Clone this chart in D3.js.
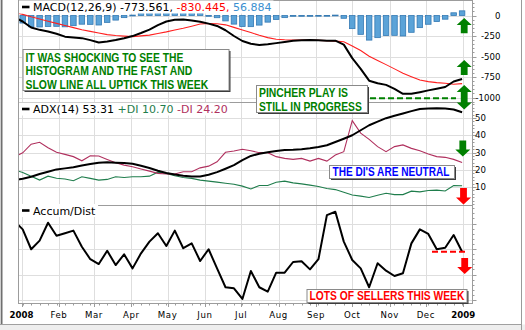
<!DOCTYPE html>
<html>
<head>
<meta charset="utf-8">
<script src="https://cdn.jsdelivr.net/npm/d3@7/dist/d3.min.js"></script>
<style>
  html, body { margin: 0; padding: 0; background: #ffffff; }
  svg { display: block; }
</style>
</head>
<body>
<svg id="chart" width="525" height="330"></svg>
<script>
// ---------------- data ----------------
// Weekly bars; the first one (late Dec 2007) sits just left of the plot and is clipped.
const weeks = d3.timeWednesday.range(new Date(2007, 11, 25), new Date(2009, 0, 1));

const macdLine = [-20, -73, -146, -175, -195, -223, -258, -268, -276, -300, -330, -316, -299, -277, -251, -213,
  -172, -117, -73, -52, -48, -61, -77, -99, -127, -180, -250, -311, -344, -359, -351, -337, -322, -307, -303,
  -299, -303, -307, -307, -355, -520, -650, -795, -826, -846, -895, -955, -955, -935, -913, -893, -872, -805, -773.561];

const signalLine = [38, 14, -16, -43, -70, -96, -122, -148, -174, -194, -214, -233, -244, -252, -258, -249,
  -239, -219, -200, -177, -155, -130, -104, -98, -100, -114, -145, -177, -208, -242, -270, -289, -296, -299,
  -299, -299, -303, -307, -312, -321, -372, -428, -497, -548, -599, -651, -703, -746, -787, -806, -819, -827, -838, -830.445];

const macdHist = [-58, -92, -138, -140, -133, -132, -138, -124, -106, -108, -116, -84, -56, -26, 5, 36, 67,
  102, 127, 125, 107, 69, 27, -1, -27, -66, -105, -134, -136, -117, -81, -48, -26, -8, -4, 0, 1, 1, 5, -34,
  -160, -230, -300, -270, -245, -242, -250, -205, -148, -107, -74, -45, 33, 56.884];

const adxLine = [14.0, 14.8, 15.9, 17.5, 18.8, 20.2, 20.8, 21.5, 22.5, 23.3, 24.1, 24.3, 24.1, 23.9, 23.5,
  22.3, 21.0, 19.4, 18.1, 17.3, 16.5, 16.1, 16.1, 17.1, 18.6, 20.6, 22.7, 25.6, 28.0, 29.3, 30.1, 30.9, 31.5,
  31.6, 31.9, 32.4, 33.2, 34.2, 36.1, 38.0, 40.0, 42.9, 45.8, 47.9, 49.9, 51.3, 52.6, 54.0, 55.2, 55.5, 55.7,
  55.5, 54.9, 53.31];

const plusDI = [20.0, 18.4, 16.3, 14.0, 16.3, 15.1, 14.6, 13.6, 15.9, 15.0, 14.0, 14.4, 15.9, 15.5, 15.9,
  15.9, 16.3, 18.6, 17.9, 16.5, 15.5, 15.0, 14.0, 13.4, 12.8, 12.2, 11.6, 10.5, 8.9, 10.9, 10.9, 12.8, 13.4,
  12.4, 11.8, 11.1, 10.3, 9.1, 8.5, 7.0, 5.4, 4.7, 3.9, 5.2, 6.4, 5.6, 5.6, 7.6, 7.2, 8.0, 8.2, 7.7, 10.9, 10.70];

const minusDI = [27.5, 29.8, 34.8, 35.9, 32.8, 30.1, 28.9, 27.6, 25.2, 28.1, 28.0, 26.0, 24.1, 22.7, 21.7,
  20.4, 19.2, 17.9, 17.5, 17.5, 18.8, 18.8, 21.1, 22.1, 24.6, 30.1, 30.9, 31.9, 31.0, 29.9, 29.9, 27.6, 26.6,
  26.0, 26.6, 25.0, 26.6, 25.0, 28.5, 30.5, 48.5, 41.2, 37.6, 33.4, 30.5, 33.4, 34.4, 32.4, 31.0, 29.1, 27.6,
  27.2, 26.0, 24.20];

const accumDist = [31.0, 27.7, 19.9, 23.3, 30.3, 25.2, 26.2, 27.2, 20.9, 16.0, 14.1, 19.3, 13.7, 17.9, 12.4,
  18.3, 22.9, 26.2, 21.2, 27.2, 20.3, 22.2, 15.3, 19.9, 12.4, 5.0, 4.6, 0.4, 11.4, 5.0, 3.3, 10.7, 10.7, 14.9,
  15.2, 12.0, 16.0, 33.3, 34.6, 22.9, 15.7, 12.4, 5.0, 14.4, 11.5, 9.4, 10.5, 22.2, 27.7, 25.9, 19.9, 20.5,
  25.5, 18.9];

const macdTicks = [0, -250, -500, -750, -1000];
const adxTicks = [10, 20, 30, 40, 50];
const adGridTicks = [0, 10, 20, 30];

// ---------------- layout ----------------
const plotL = 18.5, plotR = 472.5;
const panels = {
  macd: { top: 0.5, bottom: 102.5 },
  adx:  { top: 102.5, bottom: 205.5 },
  ad:   { top: 205.5, bottom: 303.5 }
};
const GRID = "#dedede", BORDER = "#9c9c9c";
const GREEN = "#008000", RED = "#ff0000";

const x = d3.scaleTime().domain([new Date(2008, 0, 1), new Date(2009, 0, 1)]).range([21.5, 463.3]);
const yMacd = d3.scaleLinear().domain([-1000, 0]).range([97.5, 15.5]);
const yAdx = d3.scaleLinear().domain([10, 50]).range([187, 118]);
const yAd = d3.scaleLinear().domain([0, 30]).range([300, 223.5]);

const months = d3.timeMonth.range(new Date(2008, 0, 1), new Date(2009, 0, 2));

const svg = d3.select("#chart");
svg.append("rect").attr("width", 525).attr("height", 330).attr("fill", "#ffffff");
const defs = svg.append("defs");

Object.entries(panels).forEach(([key, p]) => {
  defs.append("clipPath").attr("id", "clip-" + key)
    .append("rect").attr("x", plotL).attr("y", p.top)
    .attr("width", plotR - plotL).attr("height", p.bottom - p.top);
});

// ---------------- grids ----------------
function drawGrid(p, yScale, ticks) {
  const g = svg.append("g");
  g.selectAll("line.v").data(months).join("line")
    .attr("x1", d => Math.round(x(d)) + 0.5).attr("x2", d => Math.round(x(d)) + 0.5)
    .attr("y1", p.top).attr("y2", p.bottom)
    .attr("stroke", GRID).attr("stroke-width", 1);
  g.selectAll("line.h").data(ticks).join("line")
    .attr("x1", plotL).attr("x2", plotR)
    .attr("y1", d => Math.round(yScale(d)) + 0.5).attr("y2", d => Math.round(yScale(d)) + 0.5)
    .attr("stroke", GRID).attr("stroke-width", 1);
}
drawGrid(panels.macd, yMacd, macdTicks);
drawGrid(panels.adx, yAdx, adxTicks);
drawGrid(panels.ad, yAd, adGridTicks);

// ---------------- MACD panel ----------------
const gMacd = svg.append("g").attr("clip-path", "url(#clip-macd)");
gMacd.selectAll("rect.bar").data(macdHist).join("rect")
  .attr("x", (d, i) => x(weeks[i]) - 2.75)
  .attr("y", d => Math.min(yMacd(d), yMacd(0)))
  .attr("width", 5.5)
  .attr("height", d => Math.max(0.8, Math.abs(yMacd(d) - yMacd(0))))
  .attr("fill", "#5ba3d8").attr("stroke", "#3479b3").attr("stroke-width", 0.8);

const lineOf = (yScale) => d3.line().x((d, i) => x(weeks[i])).y(d => yScale(d));
gMacd.append("path").datum(signalLine).attr("d", lineOf(yMacd))
  .attr("fill", "none").attr("stroke", "#ff2020").attr("stroke-width", 1.1);
gMacd.append("path").datum(macdLine).attr("d", lineOf(yMacd))
  .attr("fill", "none").attr("stroke", "#000000").attr("stroke-width", 2).attr("stroke-linejoin", "round");

// ---------------- ADX panel ----------------
const gAdx = svg.append("g").attr("clip-path", "url(#clip-adx)");
gAdx.append("path").datum(plusDI).attr("d", lineOf(yAdx))
  .attr("fill", "none").attr("stroke", "#1f7d4c").attr("stroke-width", 1.1);
gAdx.append("path").datum(minusDI).attr("d", lineOf(yAdx))
  .attr("fill", "none").attr("stroke", "#b0305e").attr("stroke-width", 1.1);
gAdx.append("path").datum(adxLine).attr("d", lineOf(yAdx))
  .attr("fill", "none").attr("stroke", "#000000").attr("stroke-width", 2).attr("stroke-linejoin", "round");

// ---------------- Accum/Dist panel ----------------
const gAd = svg.append("g").attr("clip-path", "url(#clip-ad)");
gAd.append("path").datum(accumDist).attr("d", lineOf(yAd))
  .attr("fill", "none").attr("stroke", "#000000").attr("stroke-width", 2).attr("stroke-linejoin", "round");

// ---------------- panel borders ----------------
Object.values(panels).forEach(p => {
  svg.append("rect").attr("x", plotL).attr("y", p.top)
    .attr("width", plotR - plotL).attr("height", p.bottom - p.top)
    .attr("fill", "none").attr("stroke", BORDER).attr("stroke-width", 1);
});

// ---------------- legends ----------------
function legend(yMid, parts) {
  const g = svg.append("g");
  const bg = g.append("rect").attr("fill", "#ffffff");
  g.append("line").attr("x1", 22).attr("x2", 29.5).attr("y1", yMid).attr("y2", yMid)
    .attr("stroke", "#000").attr("stroke-width", 2.6);
  const t = g.append("text").attr("x", 33).attr("y", yMid + 4)
    .attr("font-family", "DejaVu Sans, Verdana, sans-serif").attr("font-size", 11);
  parts.forEach(([s, c]) => t.append("tspan").attr("fill", c).text(s));
  const bb = t.node().getBBox();
  bg.attr("x", 19).attr("y", yMid - 6.5).attr("width", bb.x + bb.width + 2 - 19).attr("height", 13);
}
legend(7, [["MACD(12,26,9) -773.561, ", "#000"], ["-830.445, ", "#ff0000"], ["56.884", "#3a8fd0"]]);
legend(109, [["ADX(14) 53.31 ", "#000"], ["+DI 10.70 ", "#1f7d4c"], ["-DI 24.20", "#b0305e"]]);
legend(210.5, [["Accum/Dist", "#000"]]);

// ---------------- right axes ----------------
const axisFont = "DejaVu Sans, Verdana, sans-serif";
function rightTicks(p, yScale, major, minorStep, labels, anchor, lx) {
  const g = svg.append("g");
  const [d0, d1] = [yScale.invert(p.bottom), yScale.invert(p.top)];
  const lo = Math.ceil(Math.min(d0, d1) / minorStep) * minorStep;
  const hi = Math.max(d0, d1);
  g.selectAll("line.minor").data(d3.range(lo, hi, minorStep)).join("line")
    .attr("x1", plotR).attr("x2", plotR + 2)
    .attr("y1", d => Math.round(yScale(d)) + 0.5).attr("y2", d => Math.round(yScale(d)) + 0.5)
    .attr("stroke", BORDER);
  g.selectAll("line.major").data(major).join("line")
    .attr("x1", plotR).attr("x2", plotR + 4)
    .attr("y1", d => Math.round(yScale(d)) + 0.5).attr("y2", d => Math.round(yScale(d)) + 0.5)
    .attr("stroke", BORDER);
  if (labels) {
    g.selectAll("text").data(major).join("text")
      .attr("x", lx).attr("y", d => yScale(d) + 3)
      .attr("text-anchor", anchor)
      .attr("font-family", axisFont).attr("font-size", 8.6).attr("fill", "#000")
      .text(d => d);
  }
}
rightTicks(panels.macd, yMacd, macdTicks, 50, true, "end", 500.5);
rightTicks(panels.adx, yAdx, adxTicks, 2, true, "start", 475);
rightTicks(panels.ad, yAd, adGridTicks, 2, false);

// ---------------- bottom axis ----------------
const gx = svg.append("g");
gx.selectAll("line.wk").data(weeks.filter(d => x(d) >= plotL && x(d) <= plotR)).join("line")
  .attr("x1", d => Math.round(x(d)) + 0.5).attr("x2", d => Math.round(x(d)) + 0.5)
  .attr("y1", panels.ad.bottom).attr("y2", panels.ad.bottom + 2)
  .attr("stroke", BORDER);
gx.selectAll("line.mo").data(months).join("line")
  .attr("x1", d => Math.round(x(d)) + 0.5).attr("x2", d => Math.round(x(d)) + 0.5)
  .attr("y1", panels.ad.bottom).attr("y2", panels.ad.bottom + 3.5)
  .attr("stroke", BORDER);
gx.selectAll("text").data(months).join("text")
  .attr("x", d => x(d)).attr("y", 317.5)
  .attr("text-anchor", "middle")
  .attr("font-family", axisFont).attr("font-size", 8.6)
  .attr("font-weight", d => d.getMonth() === 0 ? "bold" : "normal")
  .attr("letter-spacing", d => d.getMonth() === 0 ? 0 : 0.6)
  .attr("fill", "#000")
  .text(d => d.getMonth() === 0 ? d3.timeFormat("%Y")(d) : d3.timeFormat("%b")(d));

// ---------------- annotations ----------------
// Condensed bold caption: natural-width text squeezed horizontally to the wanted width.
function noteBox(x0, y0, w, h, lines, color) {
  const g = svg.append("g");
  g.append("rect").attr("x", x0 + 2).attr("y", y0 + 2).attr("width", w).attr("height", h).attr("fill", "#3c3c3c");
  g.append("rect").attr("x", x0 + 0.5).attr("y", y0 + 0.5).attr("width", w).attr("height", h)
    .attr("fill", "#ffffff").attr("stroke", "#8a8a8a").attr("stroke-width", 1);
  lines.forEach(([s, tx, ty, tw]) => {
    const t = g.append("text").attr("x", 0).attr("y", 0)
      .attr("font-family", "Liberation Sans, Arial, sans-serif").attr("font-weight", "bold")
      .attr("font-size", 13).attr("fill", color)
      .text(s);
    const natural = t.node().getComputedTextLength();
    t.attr("transform", `translate(${tx},${ty}) scale(${tw / natural},1)`);
  });
}

// arrows: dir = "up" | "down" | "both"
function arrow(cx, top, bottom, dir, color) {
  const hw = 7.5, sw = 3.4, hh = 7;
  let p;
  if (dir === "up") {
    p = [[cx, top], [cx + hw, top + hh], [cx + sw, top + hh], [cx + sw, bottom], [cx - sw, bottom], [cx - sw, top + hh], [cx - hw, top + hh]];
  } else if (dir === "down") {
    p = [[cx, bottom], [cx + hw, bottom - hh], [cx + sw, bottom - hh], [cx + sw, top], [cx - sw, top], [cx - sw, bottom - hh], [cx - hw, bottom - hh]];
  } else {
    p = [[cx, top], [cx + hw, top + hh], [cx + sw, top + hh], [cx + sw, bottom - hh], [cx + hw, bottom - hh], [cx, bottom],
         [cx - hw, bottom - hh], [cx - sw, bottom - hh], [cx - sw, top + hh], [cx - hw, top + hh]];
  }
  svg.append("path").attr("d", d3.line()(p) + "Z").attr("fill", color);
}

// dashed reference levels
svg.append("line").attr("x1", 370).attr("x2", 456).attr("y1", yMacd(-1010)).attr("y2", yMacd(-1010))
  .attr("stroke", GREEN).attr("stroke-width", 2).attr("stroke-dasharray", "6,3");
svg.append("line").attr("x1", 432).attr("x2", 468)
  .attr("y1", yAd(accumDist[accumDist.length - 1])).attr("y2", yAd(accumDist[accumDist.length - 1]))
  .attr("stroke", RED).attr("stroke-width", 2).attr("stroke-dasharray", "6,3");

noteBox(22.5, 49, 206, 41, [
  ["IT WAS SHOCKING TO SEE THE", 25.5, 61.5, 158],
  ["HISTOGRAM AND THE FAST AND", 25.5, 75, 167],
  ["SLOW LINE ALL UPTICK THIS WEEK", 25.5, 88.8, 183]
], GREEN);
noteBox(256, 85, 111, 27, [
  ["PINCHER PLAY IS", 259, 96.8, 89],
  ["STILL IN PROGRESS", 259, 110.5, 103]
], GREEN);
noteBox(329, 165, 125, 13, [
  ["THE DI'S ARE NEUTRAL", 332.5, 176.2, 117]
], "#0000ff");
noteBox(306.5, 289, 160, 13, [
  ["LOTS OF SELLERS THIS WEEK", 309.5, 300.2, 155]
], RED);

arrow(464.2, 18, 33.3, "up", GREEN);
arrow(464.2, 60, 75, "up", GREEN);
arrow(464.2, 85, 109.5, "both", GREEN);
arrow(462.8, 140.5, 156.5, "down", GREEN);
arrow(463.5, 188, 204.5, "down", RED);
arrow(464.7, 258, 274, "down", RED);

// ---------------- outer frame ----------------
svg.append("rect").attr("x", 0).attr("y", 0).attr("width", 1).attr("height", 324).attr("fill", "#cfcfcf");
svg.append("rect").attr("x", 1).attr("y", 0).attr("width", 1.5).attr("height", 324).attr("fill", "#6f6f6f");
svg.append("rect").attr("x", 0).attr("y", 324.5).attr("width", 525).attr("height", 5.5).attr("fill", "#eeeeee");
svg.append("line").attr("x1", 0).attr("x2", 521).attr("y1", 324.5).attr("y2", 324.5).attr("stroke", "#a0a0a0");
svg.append("line").attr("x1", 521.5).attr("x2", 521.5).attr("y1", 0).attr("y2", 330).attr("stroke", "#9a9a9a");
</script>
</body>
</html>
